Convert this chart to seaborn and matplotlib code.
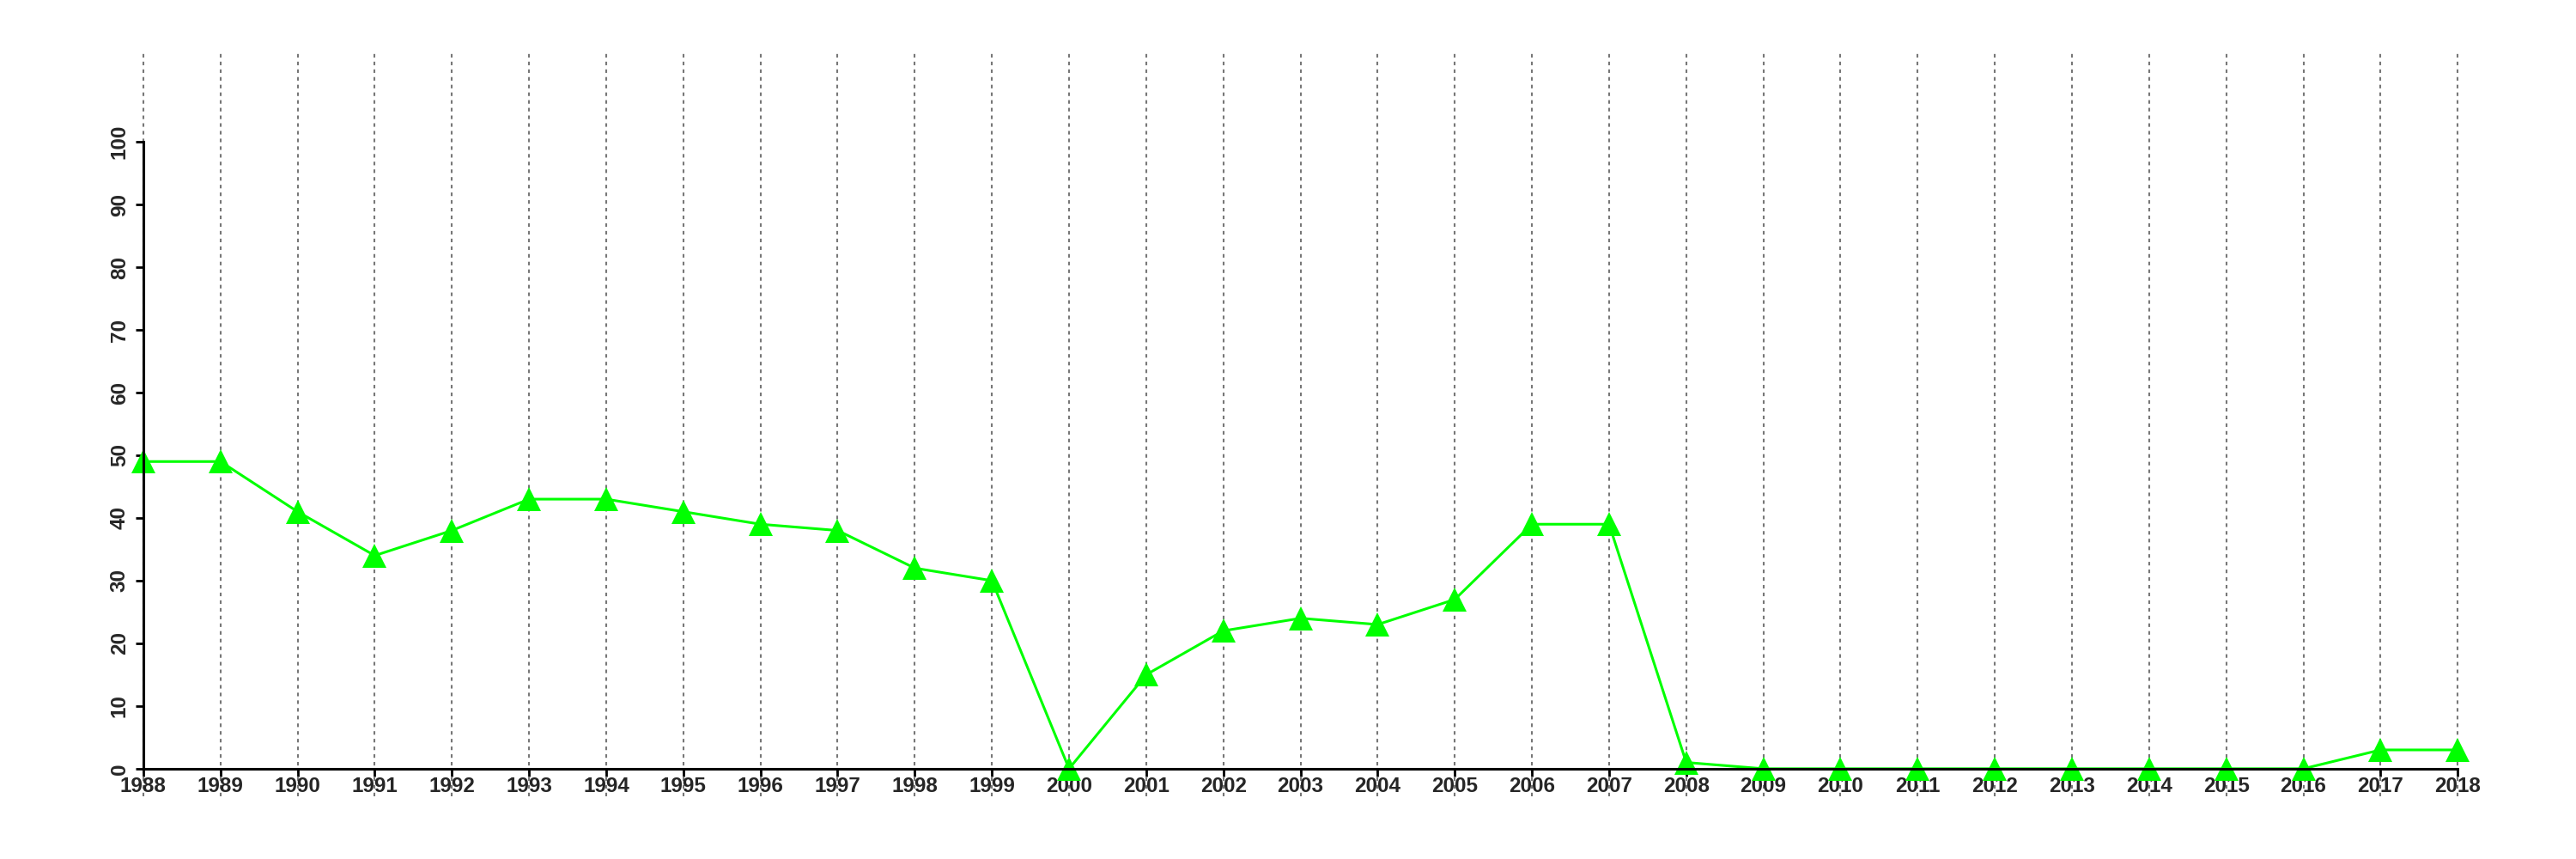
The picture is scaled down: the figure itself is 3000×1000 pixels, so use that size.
import matplotlib
matplotlib.use("Agg")
import matplotlib.pyplot as plt
import pandas as pd
import seaborn as sns

# values
years = list(range(1988, 2019))
values = [49, 49, 41, 34, 38, 43, 43, 41, 39, 38, 32, 30, 0, 15, 22, 24,
          23, 27, 39, 39, 1, 0, 0, 0, 0, 0, 0, 0, 0, 3, 3]
y_ticks = list(range(0, 101, 10))


def main():
    sns.set_style("white")
    plt.rcParams['font.family'] = ['Liberation Sans', 'DejaVu Sans']
    plt.rcParams['font.weight'] = 'bold'

    df = pd.DataFrame({'year': years, 'value': values})

    fig = plt.figure(figsize=(30, 10), dpi=100)
    ax = fig.add_axes([0.0197, 0.073, 0.9703, 0.867])

    sns.lineplot(data=df, x='year', y='value', ax=ax, color='#00ff00',
                 linewidth=2.2, marker='^', markersize=20,
                 markeredgecolor='#00ff00', markeredgewidth=0)

    ax.set_xlim(1986.8, 2019.2)
    ax.set_ylim(-4.4, 114.4)
    ax.set_xticks(years)
    ax.set_yticks(y_ticks)
    ax.set_xlabel('')
    ax.set_ylabel('')

    # dotted vertical grid at every year
    ax.xaxis.grid(True, linestyle=(0, (2, 2.3)), color='#777777', linewidth=1.5)
    ax.yaxis.grid(False)
    ax.set_axisbelow(True)

    # R-style axes: lines only across the tick range
    for side in ['top', 'right']:
        ax.spines[side].set_visible(False)
    ax.spines['left'].set_position(('data', 1988))
    ax.spines['bottom'].set_position(('data', 0))
    ax.spines['left'].set_bounds(0, 100)
    ax.spines['bottom'].set_bounds(1988, 2018)
    for side in ['left', 'bottom']:
        ax.spines[side].set_color('black')
        ax.spines[side].set_linewidth(2.2)

    ax.tick_params(axis='both', direction='out', length=6.5, width=2,
                   color='black', labelsize=17.5)
    ax.tick_params(axis='x', pad=0, bottom=True)
    ax.tick_params(axis='y', pad=5, left=True)
    for lab in ax.get_yticklabels():
        lab.set_rotation(90)
        lab.set_va('center')

    fig.savefig('out.png', dpi=100)


if __name__ == "__main__":
    main()
